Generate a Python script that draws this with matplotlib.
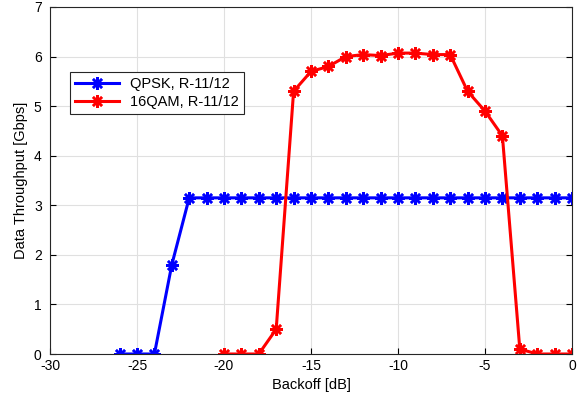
import matplotlib
matplotlib.use("Agg")
import matplotlib.pyplot as plt

plt.rcParams['font.family'] = ['Liberation Sans', 'DejaVu Sans']
plt.rcParams['axes.unicode_minus'] = False

qpsk_x = [-26, -25, -24, -23, -22, -21, -20, -19, -18, -17, -16, -15, -14, -13,
          -12, -11, -10, -9, -8, -7, -6, -5, -4, -3, -2, -1, 0]
qpsk_y = [0, 0, 0, 1.8, 3.15, 3.15, 3.15, 3.15, 3.15, 3.15, 3.15, 3.15, 3.15, 3.15,
          3.15, 3.15, 3.15, 3.15, 3.15, 3.15, 3.15, 3.15, 3.15, 3.15, 3.15, 3.15, 3.15]
qam_x = [-20, -19, -18, -17, -16, -15, -14, -13, -12, -11, -10, -9, -8, -7,
         -6, -5, -4, -3, -2, -1, 0]
qam_y = [0, 0, 0, 0.5, 5.3, 5.7, 5.8, 6.0, 6.04, 6.02, 6.07, 6.07, 6.04, 6.04,
         5.3, 4.9, 4.4, 0.1, 0, 0, 0]
labels = ["QPSK, R-11/12", "16QAM, R-11/12"]

fig = plt.figure(figsize=(5.84, 4.0), dpi=100)
ax = fig.add_axes([50/584, 1-354/400, 522/584, 347/400])

mk = dict(marker=(8, 2, 0), markersize=9, markeredgewidth=1.8, linewidth=2.2)
ax.plot(qpsk_x, qpsk_y, color='#0000ff', label=labels[0], **mk)
ax.plot(qam_x, qam_y, color='#ff0000', label=labels[1], **mk)

ax.set_xlim(-30, 0)
ax.set_ylim(0, 7)
ax.set_xticks(range(-30, 1, 5))
ax.set_yticks(range(0, 8))
ax.grid(True, color='#e0e0e0', linewidth=0.8)
ax.set_axisbelow(True)
ax.tick_params(direction='in', labelsize=10, length=4, top=False, right=True)
ax.tick_params(axis='y', pad=6)
ax.set_xlabel("Backoff [dB]", fontsize=10.5)
ax.set_ylabel("Data Throughput [Gbps]", fontsize=10.5)
for s in ax.spines.values():
    s.set_color('#262626')
    s.set_linewidth(0.8)

leg = ax.legend(loc='upper left', bbox_to_anchor=(0.038, 0.813), fontsize=10.5,
                fancybox=False, framealpha=1, edgecolor='#262626',
                handlelength=3, borderpad=0.35, labelspacing=0.3,
                borderaxespad=0)
leg.get_frame().set_linewidth(0.8)

fig.savefig("out.png", dpi=100)
